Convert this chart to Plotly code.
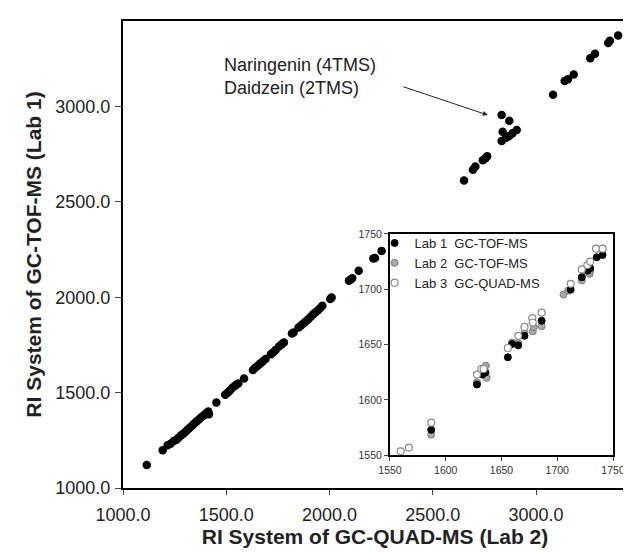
import plotly.graph_objects as go

# ---- main panel: RI GC-QUAD-MS (Lab 2) vs RI GC-TOF-MS (Lab 1) ----
main_x = [1115, 1192, 1216, 1230, 1246, 1259, 1270, 1282, 1293, 1303, 1312, 1322, 1334,
          1345, 1357, 1369, 1380, 1392, 1403, 1413, 1416, 1452, 1495, 1508, 1519, 1531,
          1545, 1558, 1586, 1629, 1640, 1652, 1664, 1676, 1690, 1716, 1728, 1739, 1755,
          1767, 1779, 1818, 1826, 1850, 1862, 1873, 1885, 1897, 1909, 1921, 1932, 1944,
          1955, 1965, 2003, 2010, 2094, 2102, 2110, 2141, 2212, 2220, 2252,
          2651, 2694, 2706, 2742, 2755, 2763, 2833, 2870, 2838, 2833, 2855, 2870, 2886,
          2906, 3082, 3138, 3154, 3182, 3262, 3285, 3349, 3357, 3397]
main_y = [1120, 1198, 1224, 1232, 1247, 1253, 1265, 1277, 1286, 1295, 1305, 1314, 1326,
          1338, 1350, 1361, 1372, 1382, 1392, 1401, 1387, 1448, 1489, 1501, 1513, 1527,
          1538, 1548, 1574, 1618, 1630, 1641, 1652, 1663, 1676, 1701, 1712, 1724, 1742,
          1752, 1763, 1810, 1815, 1841, 1852, 1862, 1873, 1885, 1898, 1911, 1921, 1932,
          1944, 1955, 1991, 1999, 2086, 2093, 2100, 2139, 2203, 2206, 2243,
          2612, 2668, 2685, 2718, 2728, 2739, 2955, 2925, 2867, 2819, 2836, 2845, 2860,
          2877, 3062, 3133, 3143, 3168, 3253, 3276, 3333, 3345, 3372]

# ---- inset: three labs ----
lab1_x = [1587, 1628, 1632.7, 1635.6, 1655.7, 1659.5, 1665, 1670.6, 1686, 1712, 1722,
          1727, 1729.5, 1735.4, 1740.6]
lab1_y = [1573, 1614, 1623, 1625, 1638.6, 1650.6, 1649.4, 1658, 1671.6, 1699.7, 1711,
          1716.8, 1719, 1729, 1731]

lab2_x = [1587, 1628, 1636, 1636.7, 1659.5, 1665, 1670.6, 1678, 1679, 1686, 1705.6,
          1709.7, 1722, 1722, 1729, 1729.5]
lab2_y = [1568.6, 1616, 1631, 1620, 1652, 1651.5, 1660.5, 1662, 1665.7, 1666.6, 1695.3,
          1698.8, 1708, 1711, 1714, 1717]

lab3_x = [1559.6, 1567, 1587, 1628, 1632, 1634, 1655.7, 1665, 1670.6, 1677.6, 1678,
          1686, 1712, 1722, 1727, 1729.5, 1734.8, 1740.6]
lab3_y = [1553.6, 1557, 1579.5, 1623, 1628, 1628, 1647, 1658, 1666, 1674, 1670,
          1679, 1705, 1718, 1722, 1725, 1736.7, 1736.7]

legend_names = ["Lab 1\u00a0\u00a0GC-TOF-MS",
                "Lab 2\u00a0\u00a0GC-TOF-MS",
                "Lab 3\u00a0\u00a0GC-QUAD-MS"]

main_ticks = [1000, 1500, 2000, 2500, 3000]
inset_ticks = [1550, 1600, 1650, 1700, 1750]

FONT = "Liberation Sans, Arial, sans-serif"
TXT = "#222222"

fig = go.Figure()
fig.add_trace(go.Scatter(x=main_x, y=main_y, mode="markers",
                         marker=dict(color="black", size=8.5),
                         showlegend=False, xaxis="x", yaxis="y"))
fig.add_trace(go.Scatter(x=lab2_x, y=lab2_y, mode="markers", name=legend_names[1],
                         marker=dict(color="#a8a8a8", size=7,
                                     line=dict(color="#7c7c7c", width=1)),
                         xaxis="x2", yaxis="y2", legendrank=2))
fig.add_trace(go.Scatter(x=lab1_x, y=lab1_y, mode="markers", name=legend_names[0],
                         marker=dict(color="black", size=7,
                                     line=dict(color="black", width=1)),
                         xaxis="x2", yaxis="y2", legendrank=1))
fig.add_trace(go.Scatter(x=lab3_x, y=lab3_y, mode="markers", name=legend_names[2],
                         marker=dict(color="white", size=7,
                                     line=dict(color="#8a8a8a", width=1.2)),
                         xaxis="x2", yaxis="y2", legendrank=3))

axis_common = dict(showgrid=False, zeroline=False, showline=True, linecolor="black",
                   linewidth=2, ticks="outside", tickcolor="#444444", tickwidth=1.2)

fig.update_layout(
    width=631, height=552,
    margin=dict(l=115, r=0, t=13, b=72),
    paper_bgcolor="white", plot_bgcolor="white",
    font=dict(family=FONT, color=TXT),
    xaxis=dict(domain=[0, 1], range=[1000, 3440], tickvals=main_ticks,
               tickformat=".1f", ticklen=5, mirror=True, ticklabelstandoff=4,
               tickfont=dict(size=18, color=TXT),
               title=dict(text="RI System of GC-QUAD-MS (Lab 2)", standoff=6,
                          font=dict(size=21, color=TXT, weight="bold")),
               **axis_common),
    yaxis=dict(domain=[0, 1], range=[1000, 3448], tickvals=main_ticks,
               tickformat=".1f", ticklen=6, mirror=False, ticklabelstandoff=1,
               tickfont=dict(size=18, color=TXT),
               title=dict(text="RI System of GC-TOF-MS (Lab 1)", standoff=8,
                          font=dict(size=21, color=TXT, weight="bold")),
               **axis_common),
    xaxis2=dict(domain=[0.5297, 0.9723], anchor="y2", range=[1550, 1750],
                tickvals=inset_ticks, ticklen=4, mirror=True,
                tickfont=dict(size=10.5, color="#333333"), **axis_common),
    yaxis2=dict(domain=[0.070, 0.5439], anchor="x2", range=[1550, 1750],
                tickvals=inset_ticks, ticklen=4, mirror=True,
                tickfont=dict(size=10.5, color="#333333"), **axis_common),
    legend=dict(x=0.4992, y=0.5568, xanchor="left", yanchor="top",
                bgcolor="rgba(0,0,0,0)", font=dict(size=13, color=TXT),
                itemsizing="trace", tracegroupgap=0),
    annotations=[
        dict(text="Naringenin (4TMS)<br>Daidzein (2TMS)", x=1479, y=3155,
             xref="x", yref="y", showarrow=False, xanchor="left", yanchor="middle",
             align="left", font=dict(size=18, color=TXT)),
        dict(text="", x=2766, y=2955, xref="x", yref="y", ax=2350, ay=3106,
             axref="x", ayref="y", showarrow=True, arrowhead=2, arrowsize=1,
             arrowwidth=1, arrowcolor="#222222"),
    ],
)

fig.write_html("out.html")
